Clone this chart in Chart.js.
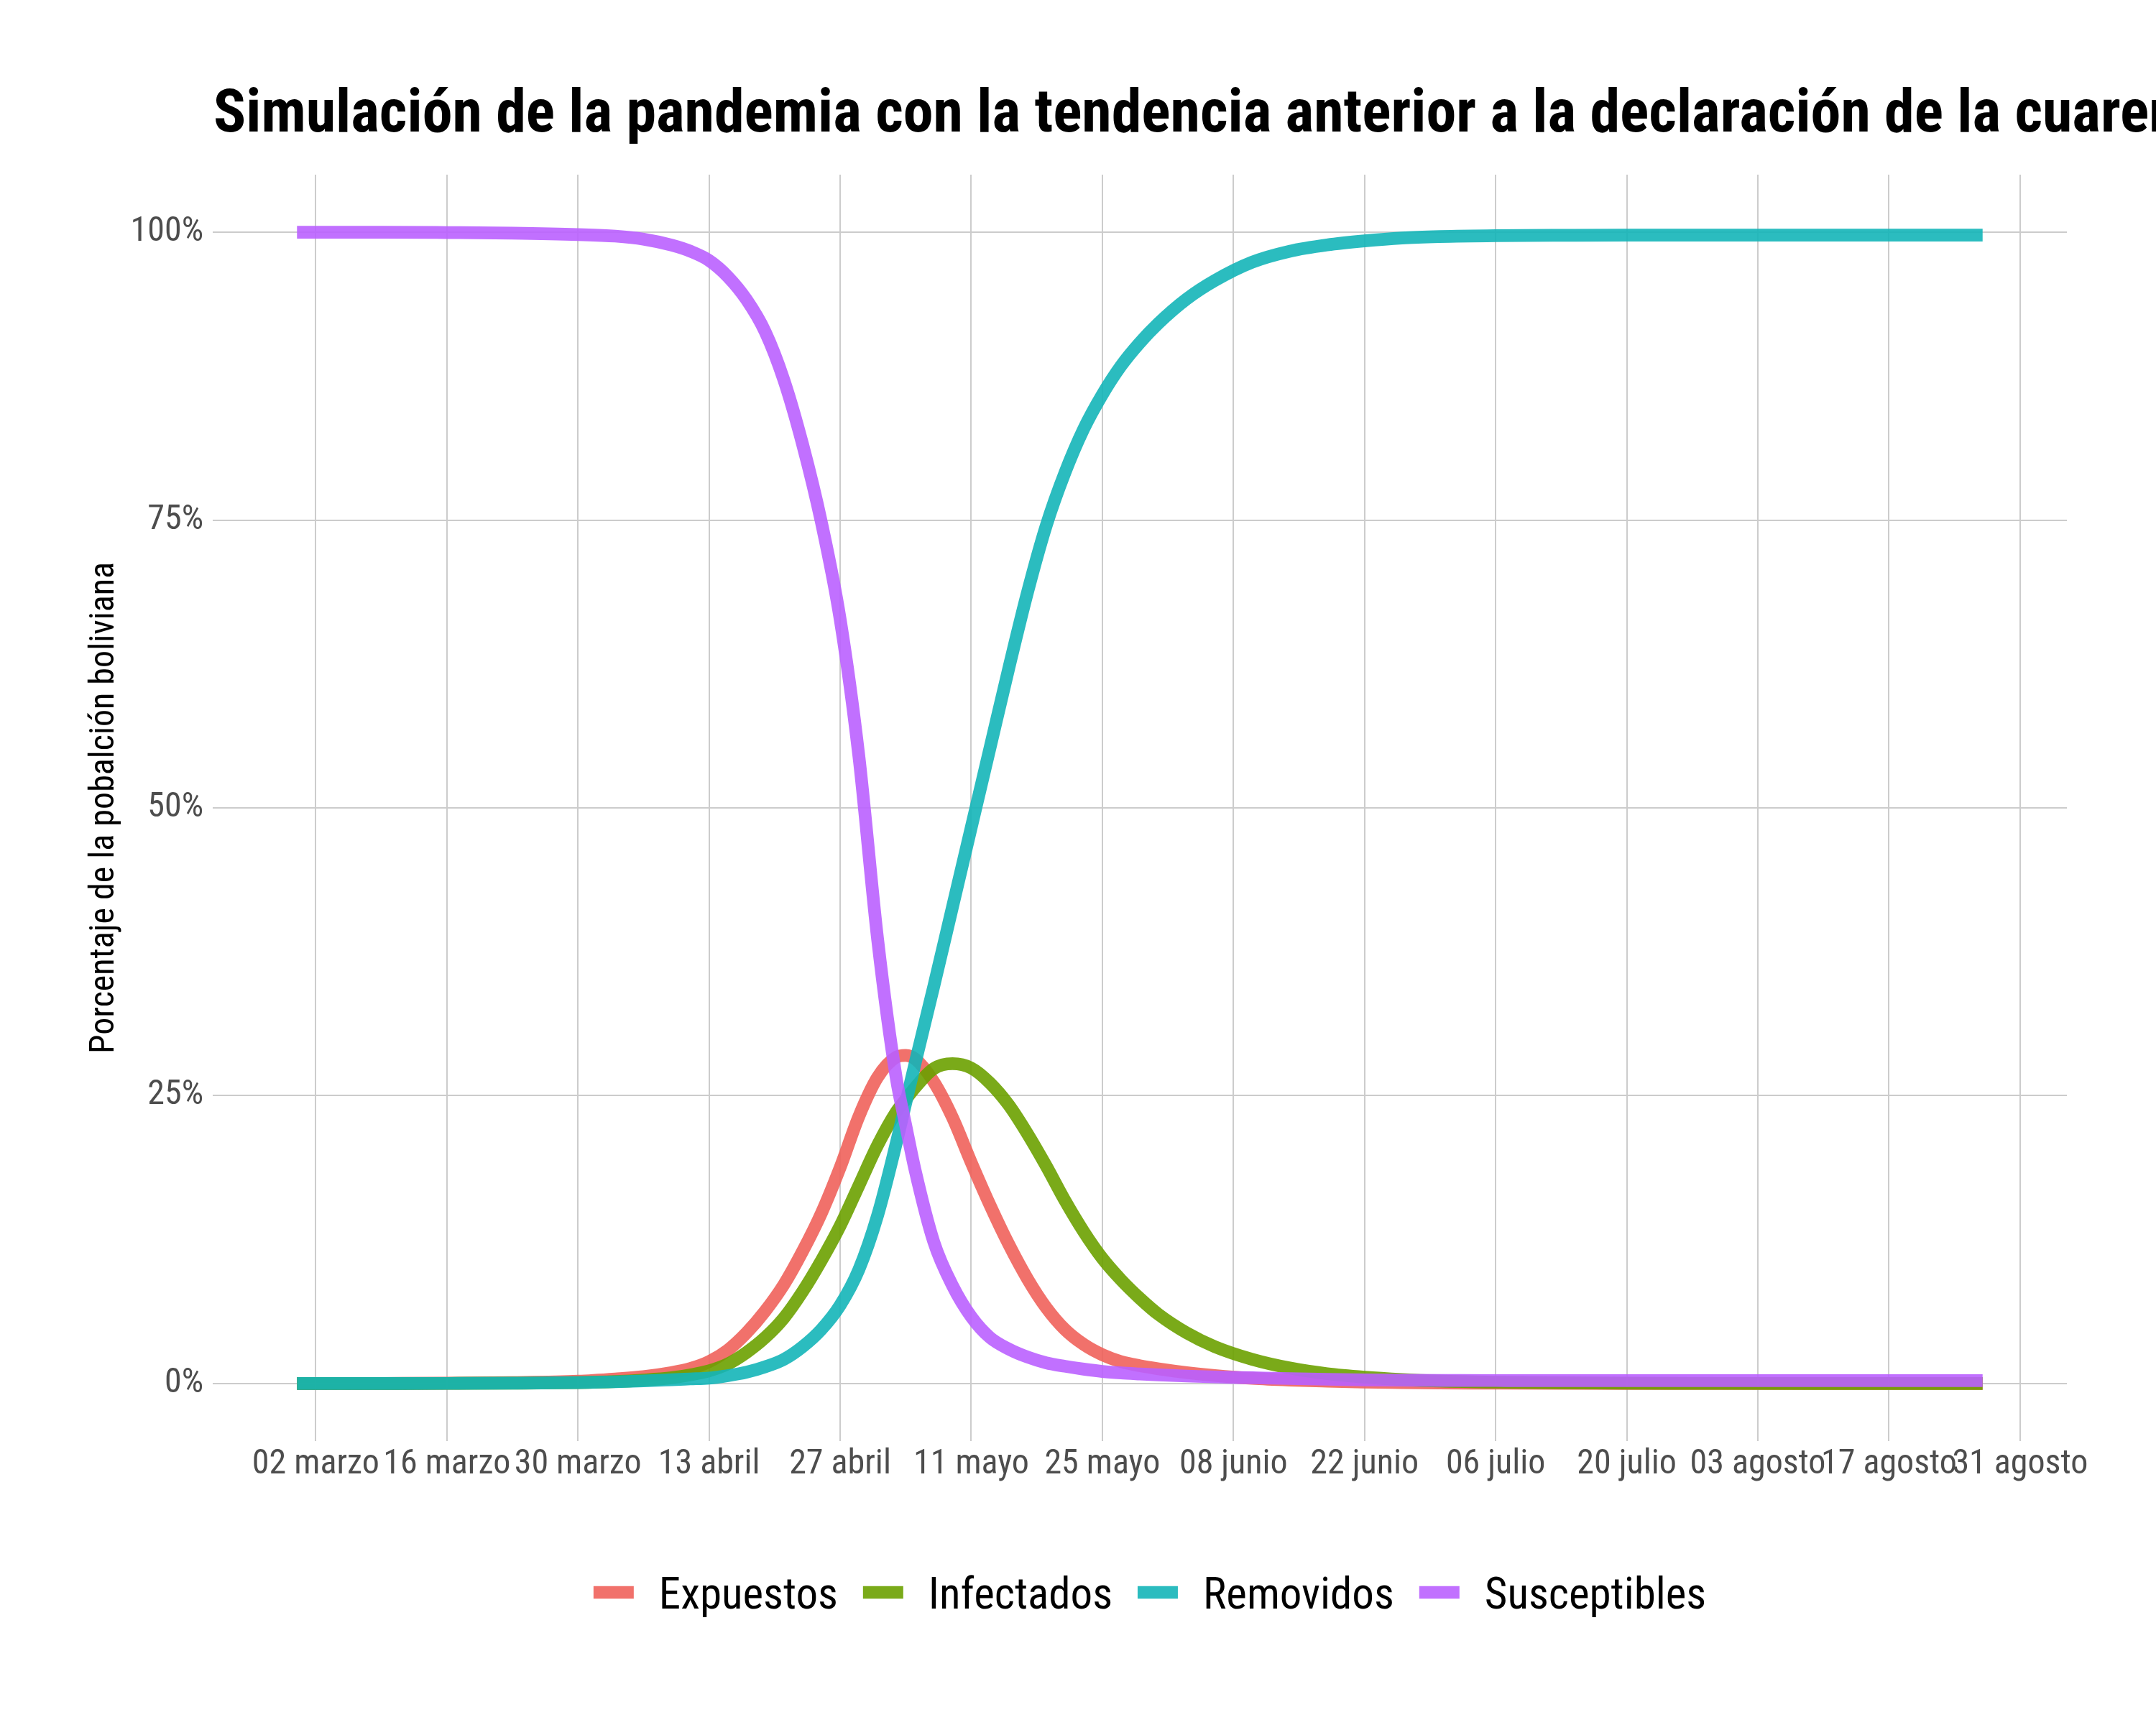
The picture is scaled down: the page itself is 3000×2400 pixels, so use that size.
<!DOCTYPE html>
<html><head><meta charset="utf-8">
<script src="https://cdn.jsdelivr.net/npm/chart.js@4.4.1/dist/chart.umd.min.js"></script>
<style>html,body{margin:0;padding:0;background:#fff}#wrap{width:3000px;height:2400px}</style>
</head><body><div id="wrap"><canvas id="c" width="3000" height="2400"></canvas></div>
<script>
const titulo = "Simulación de la pandemia con la tendencia anterior a la declaración de la cuarentena";
const tituloEjeY = "Porcentaje de la pobalción boliviana";
const categorias = ["Expuestos", "Infectados", "Removidos", "Susceptibles"];
const colores = ["rgba(240,98,91,0.9)", "rgba(107,161,0,0.9)", "rgba(20,181,184,0.9)", "rgba(186,96,255,0.9)"];

// dias desde el 02 de marzo
const dias = [-2, 0, 7, 14, 21, 28, 32, 35, 38, 40, 42, 44, 46, 48, 50, 52, 54, 56, 58, 60, 62, 63, 64, 66, 68, 70, 72, 74, 76, 78, 80, 82, 84, 86, 88, 90, 93, 96, 100, 104, 108, 112, 116, 120, 126, 133, 140, 150, 160, 170, 178];
const expuestos = [0, 0, 0.0001, 0.0003, 0.0008, 0.002, 0.004, 0.006, 0.0095, 0.013, 0.019, 0.029, 0.044, 0.063, 0.086, 0.115, 0.148, 0.1876, 0.232, 0.266, 0.2835, 0.285, 0.282, 0.262, 0.231, 0.192, 0.155, 0.121, 0.091, 0.066, 0.047, 0.034, 0.025, 0.019, 0.0155, 0.0128, 0.0095, 0.007, 0.0045, 0.003, 0.002, 0.0012, 0.0008, 0.0005, 0.0003, 0.0001, 0, 0, 0, 0, 0];
const infectados = [0, 0, 0, 0.0001, 0.0003, 0.0008, 0.0017, 0.003, 0.005, 0.0075, 0.011, 0.017, 0.027, 0.040, 0.057, 0.080, 0.107, 0.137, 0.172, 0.207, 0.236, 0.2467, 0.257, 0.2735, 0.2778, 0.274, 0.261, 0.242, 0.217, 0.189, 0.159, 0.132, 0.1087, 0.090, 0.074, 0.060, 0.044, 0.032, 0.021, 0.0135, 0.0085, 0.0055, 0.0035, 0.0022, 0.0012, 0.0006, 0.0003, 0.0001, 0, 0, 0];
const removidos = [0, 0, 0, 0.0001, 0.0003, 0.0008, 0.0015, 0.0023, 0.0033, 0.004, 0.0047, 0.0068, 0.0098, 0.0145, 0.021, 0.032, 0.047, 0.068, 0.099, 0.146, 0.209, 0.2435, 0.278, 0.345, 0.414, 0.483, 0.552, 0.621, 0.687, 0.745, 0.791, 0.829, 0.859, 0.884, 0.904, 0.921, 0.942, 0.958, 0.974, 0.9835, 0.989, 0.9925, 0.995, 0.9962, 0.997, 0.9973, 0.9975, 0.9975, 0.9975, 0.9975, 0.9975];
const susceptibles = [1.0, 1.0, 1.0, 0.9997, 0.9992, 0.998, 0.9966, 0.994, 0.9888, 0.9835, 0.9755, 0.9615, 0.9415, 0.9135, 0.8715, 0.8155, 0.748, 0.664, 0.545, 0.386, 0.265, 0.2245, 0.1855, 0.123, 0.085, 0.058, 0.040, 0.030, 0.023, 0.018, 0.015, 0.0125, 0.0105, 0.0092, 0.0083, 0.0075, 0.0065, 0.0057, 0.005, 0.0043, 0.0037, 0.0032, 0.0029, 0.0027, 0.0026, 0.0025, 0.0025, 0.0025, 0.0025, 0.0025, 0.0025];

const ticksX = [0, 14, 28, 42, 56, 70, 84, 98, 112, 126, 140, 154, 168, 182];
const etiquetasX = ["02 marzo", "16 marzo", "30 marzo", "13 abril", "27 abril", "11 mayo", "25 mayo", "08 junio", "22 junio", "06 julio", "20 julio", "03 agosto", "17 agosto", "31 agosto"];
const ticksY = [0, 0.25, 0.5, 0.75, 1];
const etiquetasY = ["0%", "25%", "50%", "75%", "100%"];

const series = [expuestos, infectados, removidos, susceptibles];
const fam = "'Roboto Condensed', 'Liberation Sans Narrow', 'DejaVu Sans Condensed', Roboto, sans-serif";
const LW = 17.7;

const datasets = categorias.map((nombre, k) => ({
  label: nombre,
  data: dias.map((d, i) => ({x: d, y: series[k][i]})),
  borderColor: colores[k],
  backgroundColor: colores[k],
  borderWidth: LW,
  pointRadius: 0,
  pointHoverRadius: 0,
  fill: false,
  cubicInterpolationMode: 'monotone',
  borderCapStyle: 'butt',
  borderJoinStyle: 'round',
  order: 3 - k
}));

const textos = {
  id: 'textos',
  afterDraw(chart) {
    const ctx = chart.ctx;
    ctx.save();
    ctx.fillStyle = '#000';
    ctx.font = `bold 84px ${fam}`;
    ctx.textAlign = 'left';
    ctx.textBaseline = 'alphabetic';
    ctx.fillText(titulo, 297, 183);
    // leyenda
    ctx.font = `61px ${fam}`;
    const keyW = 56, g1 = 35, g2 = 35;
    const ws = categorias.map(t => ctx.measureText(t).width);
    let total = 0;
    ws.forEach((w, i) => { total += keyW + g1 + w + (i < ws.length - 1 ? g2 : 0); });
    let x = 1600 - total / 2;
    const yk = 2215.5;
    categorias.forEach((t, i) => {
      ctx.strokeStyle = colores[i];
      ctx.lineWidth = LW;
      ctx.lineCap = 'butt';
      ctx.beginPath();
      ctx.moveTo(x, yk);
      ctx.lineTo(x + keyW, yk);
      ctx.stroke();
      ctx.fillStyle = '#000';
      ctx.fillText(t, x + keyW + g1, 2238);
      x += keyW + g1 + ws[i] + g2;
    });
    ctx.restore();
  }
};

new Chart(document.getElementById('c'), {
  type: 'line',
  data: { datasets },
  options: {
    responsive: false,
    devicePixelRatio: 1,
    animation: false,
    events: [],
    layout: { padding: { left: 0, right: 124, top: 243, bottom: 275 } },
    plugins: { legend: { display: false }, title: { display: false }, tooltip: { enabled: false } },
    scales: {
      x: {
        type: 'linear',
        min: -11, max: 187,
        afterBuildTicks: (s) => { s.ticks = ticksX.map(v => ({ value: v })); },
        afterFit: (s) => { s.height = 120; },
        ticks: {
          autoSkip: false, maxRotation: 0, minRotation: 0,
          padding: 4,
          color: '#4D4D4D',
          font: { family: fam, size: 48 },
          callback: (v) => { const i = ticksX.indexOf(v); return i >= 0 ? etiquetasX[i] : ''; }
        },
        grid: { color: '#CCCCCC', lineWidth: 2, drawTicks: false },
        border: { display: false }
      },
      y: {
        type: 'linear',
        min: -0.05, max: 1.05,
        afterBuildTicks: (s) => { s.ticks = ticksY.map(v => ({ value: v })); },
        afterFit: (s) => { s.width = 296; },
        ticks: {
          padding: 13,
          color: '#4D4D4D',
          font: { family: fam, size: 48 },
          callback: (v) => { const i = ticksY.indexOf(v); return i >= 0 ? etiquetasY[i] : ''; }
        },
        grid: { color: '#CCCCCC', lineWidth: 2, drawTicks: false },
        border: { display: false },
        title: {
          display: true,
          text: tituloEjeY,
          color: '#000',
          font: { family: fam, size: 48, lineHeight: 1.2 },
          padding: { top: 117, bottom: 0 }
        }
      }
    }
  },
  plugins: [textos]
});
</script>
</body></html>
